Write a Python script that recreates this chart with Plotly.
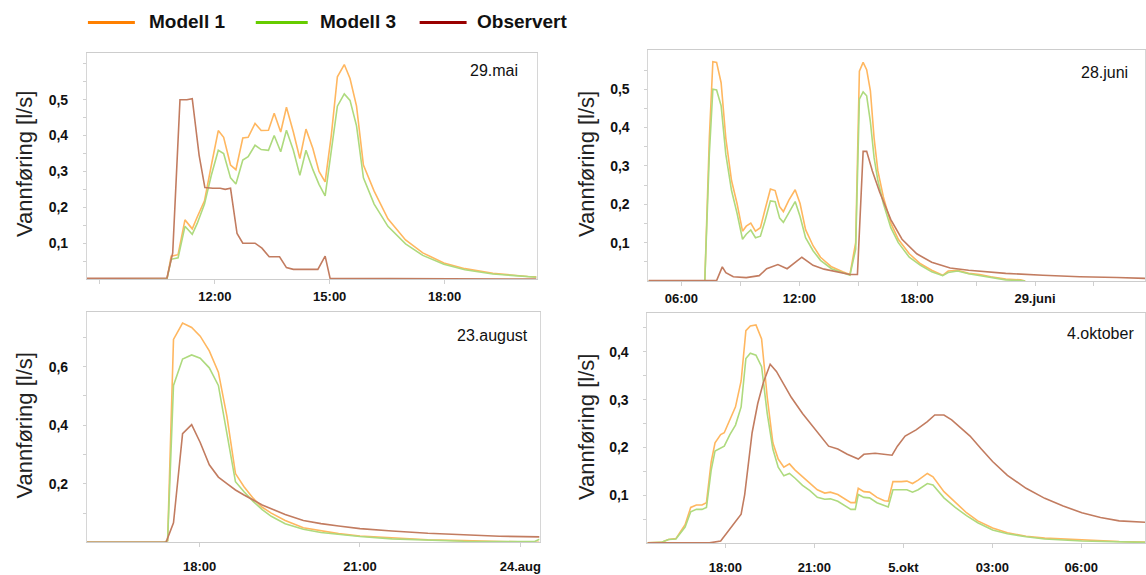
import plotly.graph_objects as go

W, H = 1146, 575

# ---------------- DATA (time in hours from midnight of the event day) ----------------
# Panel 1: 29.mai
mai_t_model = [8.66, 10.75, 10.86, 11.04, 11.22, 11.41, 11.54, 11.73, 11.91, 12.09, 12.23, 12.41, 12.55, 12.73,
               12.87, 13.05, 13.21, 13.40, 13.55, 13.72, 13.87, 14.05, 14.22, 14.38, 14.56, 14.72, 14.88, 15.04,
               15.20, 15.38, 15.53, 15.70, 15.88, 16.16, 16.52, 16.98, 17.43, 17.98, 18.53, 19.26, 20.17, 20.4]
mai_modell1 = [0, 0, 0.064, 0.068, 0.165, 0.14, 0.173, 0.218, 0.318, 0.414, 0.395, 0.318, 0.305, 0.393,
               0.395, 0.434, 0.414, 0.415, 0.462, 0.41, 0.479, 0.41, 0.336, 0.418, 0.364, 0.30, 0.271, 0.40,
               0.564, 0.598, 0.559, 0.482, 0.318, 0.245, 0.168, 0.109, 0.073, 0.045, 0.029, 0.016, 0.007, 0.006]
mai_modell3 = [0, 0, 0.055, 0.059, 0.147, 0.125, 0.155, 0.209, 0.29, 0.359, 0.35, 0.282, 0.265, 0.332,
               0.341, 0.373, 0.361, 0.359, 0.40, 0.355, 0.415, 0.359, 0.289, 0.359, 0.305, 0.264, 0.232, 0.36,
               0.482, 0.516, 0.498, 0.427, 0.282, 0.209, 0.147, 0.098, 0.066, 0.041, 0.026, 0.014, 0.006, 0.005]
mai_t_obs = [8.66, 10.75, 10.90, 11.09, 11.27, 11.41, 11.59, 11.74, 11.95, 12.14, 12.27, 12.41, 12.58, 12.73,
             13.05, 13.23, 13.42, 13.69, 13.87, 14.05, 14.69, 14.88, 15.01, 20.4]
mai_obs = [0.002, 0.003, 0.073, 0.50, 0.50, 0.503, 0.345, 0.255, 0.253, 0.253, 0.25, 0.253, 0.127, 0.10,
           0.10, 0.086, 0.062, 0.062, 0.032, 0.027, 0.027, 0.064, 0.002, 0.0]

# Panel 2: 28.juni
juni_t_model = [4.32, 7.19, 7.42, 7.60, 7.79, 8.02, 8.26, 8.55, 8.83, 9.11, 9.30, 9.53, 9.77, 10.02, 10.25,
                10.53, 10.77, 11.0, 11.19, 11.47, 11.79, 12.04, 12.32, 12.70, 13.08, 13.64, 14.21, 14.58, 14.87,
                15.06, 15.25, 15.43, 15.62, 15.81, 16.0, 16.28, 16.66, 17.04, 17.6, 18.17, 18.74, 19.30, 19.58,
                20.06, 20.62, 21.19, 21.75, 22.51, 23.26, 23.5]
juni_modell1 = [0, 0, 0.372, 0.572, 0.57, 0.517, 0.372, 0.262, 0.202, 0.13, 0.143, 0.151, 0.13, 0.139, 0.185,
                0.24, 0.236, 0.194, 0.181, 0.211, 0.238, 0.202, 0.134, 0.092, 0.062, 0.037, 0.024, 0.017, 0.10,
                0.547, 0.57, 0.551, 0.496, 0.372, 0.287, 0.219, 0.151, 0.109, 0.071, 0.045, 0.028, 0.015, 0.026,
                0.028, 0.02, 0.017, 0.011, 0.005, 0.003, 0.0]
juni_modell3 = [0, 0, 0.33, 0.50, 0.498, 0.457, 0.33, 0.236, 0.177, 0.109, 0.122, 0.133, 0.113, 0.117, 0.156,
                0.209, 0.207, 0.164, 0.153, 0.177, 0.207, 0.168, 0.113, 0.079, 0.054, 0.032, 0.022, 0.015, 0.083,
                0.474, 0.493, 0.483, 0.415, 0.321, 0.262, 0.202, 0.139, 0.10, 0.062, 0.041, 0.024, 0.014, 0.022,
                0.026, 0.019, 0.014, 0.009, 0.003, 0.001, 0.0]
juni_t_obs = [4.32, 7.79, 8.08, 8.26, 8.64, 9.30, 9.96, 10.34, 10.91, 11.38, 12.13, 12.70, 13.26, 14.02, 14.58,
              14.96, 15.25, 15.43, 15.72, 16.09, 16.66, 17.23, 17.98, 18.74, 19.68, 20.62, 22.51, 24.40, 26.28,
              28.17, 29.6]
juni_obs = [0.001, 0.001, 0.037, 0.022, 0.011, 0.009, 0.014, 0.032, 0.043, 0.032, 0.062, 0.041, 0.031, 0.022,
            0.017, 0.017, 0.338, 0.338, 0.287, 0.232, 0.16, 0.109, 0.071, 0.049, 0.034, 0.028, 0.02, 0.015,
            0.011, 0.009, 0.007]

# Panel 3: 23.august
aug_t_model = [15.89, 17.33, 17.40, 17.51, 17.68, 17.85, 18.01, 18.18, 18.35, 18.51, 18.67, 18.83, 19.0, 19.17,
               19.34, 19.60, 19.94, 20.27, 20.60, 21.0, 21.60, 22.27, 22.94, 23.61, 24.27, 24.36]
aug_modell1 = [0, 0, 0.006, 0.693, 0.749, 0.734, 0.704, 0.654, 0.581, 0.43, 0.235, 0.19, 0.151, 0.12,
               0.10, 0.075, 0.05, 0.039, 0.03, 0.022, 0.015, 0.009, 0.006, 0.003, 0.002, 0.0]
aug_modell3 = [0, 0, 0.006, 0.536, 0.626, 0.64, 0.629, 0.596, 0.536, 0.369, 0.207, 0.173, 0.14, 0.112,
               0.089, 0.064, 0.045, 0.034, 0.027, 0.02, 0.012, 0.008, 0.004, 0.003, 0.003, 0.011]
aug_t_obs = [15.89, 17.37, 17.51, 17.68, 17.85, 18.01, 18.18, 18.35, 18.51, 18.67, 18.83, 19.0, 19.17, 19.34,
             19.60, 19.94, 20.27, 20.60, 21.0, 21.60, 22.27, 22.94, 23.61, 24.36]
aug_obs = [0, 0, 0.067, 0.371, 0.402, 0.341, 0.265, 0.223, 0.201, 0.179, 0.162, 0.145, 0.128, 0.115,
           0.095, 0.075, 0.064, 0.056, 0.047, 0.039, 0.031, 0.026, 0.021, 0.019]

# Panel 4: 4.oktober
okt_t_model = [15.37, 15.83, 16.08, 16.33, 16.64, 16.83, 17.02, 17.21, 17.36, 17.52, 17.65, 17.84, 17.96, 18.15,
               18.34, 18.53, 18.69, 18.84, 19.03, 19.22, 19.41, 19.60, 19.78, 19.97, 20.16, 20.35, 20.60, 20.85,
               21.10, 21.35, 21.54, 21.79, 22.05, 22.23, 22.38, 22.48, 22.67, 22.86, 23.11, 23.36, 23.49, 23.65,
               23.93, 24.12, 24.31, 24.50, 24.81, 25.00, 25.37, 25.75, 26.13, 26.51, 27.01, 27.51, 28.14, 28.77,
               30.02, 31.28, 32.15]
okt_modell1 = [0.001, 0.002, 0.008, 0.01, 0.039, 0.075, 0.08, 0.08, 0.085, 0.17, 0.21, 0.227, 0.231, 0.258,
               0.285, 0.339, 0.444, 0.454, 0.456, 0.427, 0.305, 0.21, 0.176, 0.159, 0.166, 0.153, 0.139, 0.125,
               0.112, 0.105, 0.107, 0.102, 0.092, 0.085, 0.085, 0.115, 0.108, 0.107, 0.096, 0.089, 0.088, 0.129,
               0.129, 0.13, 0.125, 0.132, 0.146, 0.139, 0.108, 0.085, 0.064, 0.047, 0.032, 0.022, 0.015, 0.011,
               0.007, 0.004, 0.003]
okt_modell3 = [0.001, 0.002, 0.008, 0.009, 0.034, 0.066, 0.071, 0.071, 0.075, 0.153, 0.193, 0.2, 0.203, 0.227,
               0.247, 0.285, 0.386, 0.397, 0.393, 0.369, 0.271, 0.197, 0.159, 0.141, 0.146, 0.136, 0.121, 0.11,
               0.096, 0.092, 0.093, 0.088, 0.078, 0.071, 0.071, 0.102, 0.096, 0.095, 0.085, 0.078, 0.076, 0.112,
               0.112, 0.112, 0.107, 0.112, 0.125, 0.122, 0.095, 0.075, 0.058, 0.043, 0.028, 0.02, 0.014, 0.009,
               0.005, 0.003, 0.002]
okt_t_obs = [15.37, 17.46, 17.84, 18.03, 18.28, 18.53, 18.65, 18.78, 18.90, 19.09, 19.28, 19.51, 19.72, 19.97,
             20.22, 20.60, 20.98, 21.48, 21.79, 22.11, 22.48, 22.67, 23.05, 23.36, 23.62, 23.80, 24.06, 24.43,
             24.81, 25.06, 25.37, 25.63, 25.94, 26.25, 26.63, 27.01, 27.51, 28.14, 28.77, 29.39, 30.02, 30.65,
             31.28, 32.15]
okt_obs = [0.001, 0.001, 0.005, 0.02, 0.041, 0.061, 0.102, 0.169, 0.231, 0.292, 0.336, 0.374, 0.359, 0.332,
           0.305, 0.271, 0.241, 0.203, 0.197, 0.186, 0.176, 0.186, 0.188, 0.186, 0.184, 0.203, 0.224, 0.237,
           0.254, 0.268, 0.268, 0.258, 0.241, 0.224, 0.197, 0.171, 0.142, 0.115, 0.094, 0.078, 0.064, 0.054,
           0.047, 0.044]

# Tick labels
mai_xtick_vals = [9, 12, 15, 18]
mai_xtick_text = ["", "12:00", "15:00", "18:00"]
juni_xtick_vals = [6, 9, 12, 15, 18, 21, 24, 27]
juni_xtick_text = ["06:00", "", "12:00", "", "18:00", "", "29.juni", ""]
aug_xtick_vals = [18, 21, 24]
aug_xtick_text = ["18:00", "21:00", "24.aug"]
okt_xtick_vals = [18, 21, 24, 27, 30]
okt_xtick_text = ["18:00", "21:00", "5.okt", "03:00", "06:00"]

mai_ytick_vals = [0.05, 0.1, 0.15, 0.2, 0.25, 0.3, 0.35, 0.4, 0.45, 0.5, 0.55, 0.6]
mai_ytick_text = ["", "0,1", "", "0,2", "", "0,3", "", "0,4", "", "0,5", "", ""]
juni_ytick_vals = [0.05, 0.1, 0.15, 0.2, 0.25, 0.3, 0.35, 0.4, 0.45, 0.5, 0.55]
juni_ytick_text = ["", "0,1", "", "0,2", "", "0,3", "", "0,4", "", "0,5", ""]
aug_ytick_vals = [0.1, 0.2, 0.3, 0.4, 0.5, 0.6, 0.7]
aug_ytick_text = ["", "0,2", "", "0,4", "", "0,6", ""]
okt_ytick_vals = [0.05, 0.1, 0.15, 0.2, 0.25, 0.3, 0.35, 0.4, 0.45]
okt_ytick_text = ["", "0,1", "", "0,2", "", "0,3", "", "0,4", ""]

panel_titles = ["29.mai", "28.juni", "23.august", "4.oktober"]
series_names = ["Modell 1", "Modell 3", "Observert"]
y_title = "Vannføring [l/s]"

# ---------------- STYLE ----------------
C_M1, C_M3, C_OBS = "#FFB760", "#AEDA7E", "#C27C60"
C_M1_LEG, C_M3_LEG, C_OBS_LEG = "#FF8000", "#66CC00", "#990000"
FONT = "Liberation Sans, Arial, sans-serif"

def px_x(p):
    return p / W

def px_y(p):
    return 1 - p / H

# panel boxes in pixels: (left, right, top, bottom)
boxes = [(87, 537, 54, 284), (649, 1146, 51, 286), (87, 540, 318, 552), (648, 1146, 319, 553)]
xranges = [[8.66, 20.4], [4.32, 29.6], [15.89, 24.36], [15.37, 32.15]]
yranges = [[0, 0.63], [0, 0.602], [0, 0.785], [0, 0.48]]

panels = [
    (mai_t_model, mai_modell1, mai_modell3, mai_t_obs, mai_obs, mai_xtick_vals, mai_xtick_text, mai_ytick_vals, mai_ytick_text),
    (juni_t_model, juni_modell1, juni_modell3, juni_t_obs, juni_obs, juni_xtick_vals, juni_xtick_text, juni_ytick_vals, juni_ytick_text),
    (aug_t_model, aug_modell1, aug_modell3, aug_t_obs, aug_obs, aug_xtick_vals, aug_xtick_text, aug_ytick_vals, aug_ytick_text),
    (okt_t_model, okt_modell1, okt_modell3, okt_t_obs, okt_obs, okt_xtick_vals, okt_xtick_text, okt_ytick_vals, okt_ytick_text),
]

fig = go.Figure()
layout = dict(
    width=W, height=H, margin=dict(l=0, r=0, t=0, b=0),
    paper_bgcolor="white", plot_bgcolor="white", showlegend=False,
    font=dict(family=FONT, color="#111"),
)
annotations = []
shapes = []

for i, (tm, m1, m3, to, ob, xtv, xtt, ytv, ytt) in enumerate(panels):
    n = "" if i == 0 else str(i + 1)
    xa, ya = "x" + n, "y" + n
    for xs, ys, col, name in [(tm, m1, C_M1, series_names[0]), (tm, m3, C_M3, series_names[1]), (to, ob, C_OBS, series_names[2])]:
        fig.add_trace(go.Scatter(x=xs, y=ys, mode="lines", name=name, xaxis=xa, yaxis=ya,
                                 line=dict(color=col, width=1.6), hoverinfo="skip"))
    l, r, t, b = boxes[i]
    bottom_row = i >= 2
    layout["xaxis" + n] = dict(
        domain=[px_x(l), min(px_x(r), 1.0)], range=xranges[i], anchor=ya,
        showgrid=False, zeroline=False, showline=True, linecolor="#cdcdcd", linewidth=1, mirror=True,
        tickmode="array", tickvals=xtv, ticktext=xtt, ticks="outside", ticklen=4, tickcolor="#d0d0d0",
        tickfont=dict(family=FONT, size=13, color="#111", weight="bold"),
        ticklabelstandoff=8 if bottom_row else 1,
    )
    layout["yaxis" + n] = dict(
        domain=[px_y(b), px_y(t)], range=yranges[i], anchor=xa,
        showgrid=False, zeroline=False, showline=True, linecolor="#d6d6d6", linewidth=1, mirror=True,
        tickmode="array", tickvals=ytv, ticktext=ytt, ticks="outside", ticklen=3, tickcolor="#d0d0d0",
        tickfont=dict(family=FONT, size=14, color="#111", weight="bold"),
        ticklabelstandoff=12,
    )
    # y-axis title
    title_x = 24 if i % 2 == 0 else 587
    annotations.append(dict(
        text=y_title, xref="paper", yref="paper", x=px_x(title_x), y=px_y((t + b) / 2 - 2),
        xanchor="center", yanchor="middle", textangle=-90, showarrow=False,
        font=dict(family=FONT, size=22, color="#222"),
    ))

# panel date labels
label_pos = [(520, 72), (1131, 74), (530, 341), (1137, 339)]
for (lx, ly), txt in zip(label_pos, panel_titles):
    annotations.append(dict(
        text=txt, xref="paper", yref="paper", x=px_x(lx), y=px_y(ly),
        xanchor="right", yanchor="middle", showarrow=False,
        font=dict(family=FONT, size=16, color="#111"),
    ))

# legend (drawn at top)
legend_items = [(88, 135, 147, C_M1_LEG, series_names[0]),
                (256, 308, 318, C_M3_LEG, series_names[1]),
                (420, 467, 475, C_OBS_LEG, series_names[2])]
for x0, x1, tx, col, name in legend_items:
    shapes.append(dict(type="line", xref="paper", yref="paper", x0=px_x(x0), x1=px_x(x1),
                       y0=px_y(23), y1=px_y(23), line=dict(color=col, width=3)))
    annotations.append(dict(
        text=name, xref="paper", yref="paper", x=px_x(tx), y=px_y(22),
        xanchor="left", yanchor="middle", showarrow=False,
        font=dict(family=FONT, size=19, color="#111", weight="bold"),
    ))

layout["annotations"] = annotations
layout["shapes"] = shapes
fig.update_layout(**layout)
fig.write_html(
    "out.html",
    config={"displayModeBar": False},
    post_script="document.body.style.margin='0';document.body.style.padding='0';document.body.style.overflow='hidden';",
)
